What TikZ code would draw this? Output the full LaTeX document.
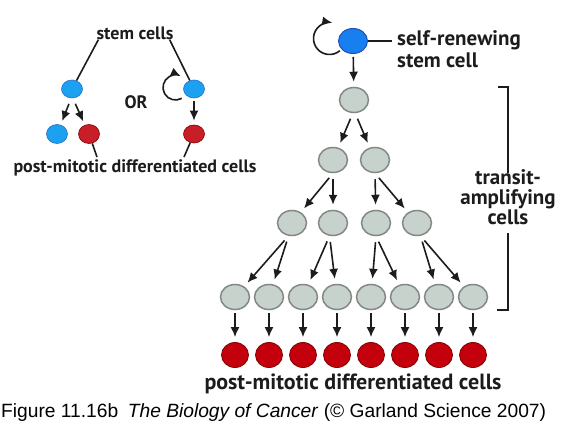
\documentclass[tikz,border=0pt]{standalone}
\usepackage{fontspec}
\setmainfont{Liberation Sans}
\newfontfamily\lblfont{PT Sans}
\usetikzlibrary{arrows.meta,positioning,calc,shapes.geometric}

\definecolor{stemblue}{RGB}{24,128,238}
\definecolor{stemedge}{RGB}{36,78,186}
\definecolor{cellblue}{RGB}{28,160,240}
\definecolor{blueedge}{RGB}{40,110,200}
\definecolor{cellred}{RGB}{196,0,12}
\definecolor{cellredl}{RGB}{200,30,40}
\definecolor{rededge}{RGB}{128,0,0}
\definecolor{cellgray}{RGB}{200,210,204}
\definecolor{grayedge}{RGB}{130,136,134}
\definecolor{ink}{RGB}{28,28,28}

\begin{document}
\begin{tikzpicture}[x=1pt, y=-1pt,
  cell/.style={ellipse, draw, inner sep=0pt},
  scell/.style={cell, minimum width=29pt, minimum height=25pt, fill=stemblue, draw=stemedge, line width=1pt},
  tacell/.style={cell, minimum width=29pt, minimum height=25pt, fill=cellgray, draw=grayedge, line width=1.5pt},
  pmcell/.style={cell, minimum width=27pt, minimum height=25pt, fill=cellred, draw=rededge, line width=0.8pt},
  bcell/.style={cell, minimum width=21pt, minimum height=18pt, fill=cellblue, draw=blueedge, line width=0.6pt},
  rcell/.style={cell, minimum width=21pt, minimum height=19pt, fill=cellredl, draw=rededge, line width=0.6pt},
  tip/.style={-{Latex[length=10pt,width=9pt]}},
  arr/.style={tip, line width=1.6pt, draw=ink, shorten <=6pt, shorten >=5pt},
  dn/.style={arr, shorten <=3pt},
  ln/.style={line width=1.6pt, draw=ink},
  lbl/.style={font=\lblfont\bfseries\fontsize{22}{22}\selectfont, text=ink, inner sep=0pt},
  lbls/.style={lbl, font=\lblfont\bfseries\fontsize{18}{18}\selectfont}]
\useasboundingbox (0,0) rectangle (568,439);

% left: the two ways
\node[lbls] (stemlbl) at (135,33) {stem cells};
\node[bcell] (b1) at (72,89) {};
\node[bcell] (b2) at (194,89) {};
\node[lbls] (orlbl) at (136,102) {OR};
\node[bcell, minimum height=19pt] (b3) at (57,134) {};
\node[rcell] (r1) at (89,134) {};
\node[rcell, minimum height=18pt] (r2) at (194,134) {};
\node[lbls] (pmlblA) at (135,168) {post-mitotic differentiated cells};

\draw[ln] ([xshift=2pt]stemlbl.south west) -- (b1);
\draw[ln] ([xshift=-4pt]stemlbl.south east) -- (b2);
\draw[arr, shorten >=4pt] (b1.-95) -- (b3);
\draw[arr, shorten >=4pt] (b1.-85) -- (r1);
\draw[dn, shorten >=4pt] (b2) -- (r2);
\draw[tip, ln] ($(b2)+(-18.5,-1.5)$) ++(-60:12.5pt) arc[start angle=-60, end angle=-295, radius=12.5pt];
\coordinate (k1) at (97,157);
\coordinate (k2) at (184,157);
\draw[ln] (r1) -- (k1);
\draw[ln] (r2) -- (k2);

% right: the hierarchy
\node[scell] (s) at (353,41) {};
\draw[tip, ln] ($(s)+(-23.5,-2.5)$) ++(-50:16pt) arc[start angle=-50, end angle=-280, radius=16pt];
\node[lbl, align=left, anchor=west, font=\lblfont\bfseries\fontsize{21}{22}\selectfont] (srlbl) at (397,49) {self-renewing\\stem cell};
\draw[ln] (s.east) -- ([xshift=-5pt]s.east -| srlbl.west);

\node[tacell] (c0) at (354,100) {};
\draw[dn] (s) -- (c0);

\node[tacell] (c10) at (333,160) {};
\node[tacell] (c11) at (375,160) {};
\draw[arr] (c0.-95) -- (c10);
\draw[arr] (c0.-85) -- (c11);

\foreach \x [count=\i from 0] in {292,333,376,417}
  \node[tacell] (c2\i) at (\x,223) {};
\draw[arr] (c10.-90) -- (c20);
\draw[arr] (c10.-90) -- (c21);
\draw[arr] (c11.-90) -- (c22);
\draw[arr] (c11.-90) -- (c23);

\foreach \i in {0,...,7} {
  \node[tacell] (c3\i) at (235+34*\i,297) {};
  \node[pmcell] (d\i) at (235+34*\i,355) {};
  \draw[dn] (c3\i) -- (d\i);
}
\draw[arr] (c20.-105) -- (c30);
\draw[arr] (c20.-105) -- (c31);
\draw[arr] (c21.-105) -- (c32);
\draw[arr] (c21.-105) -- (c33);
\draw[arr] (c22.-90) -- (c34);
\draw[arr] (c22.-90) -- (c35);
\draw[arr] (c23.-75) -- (c36);
\draw[arr] (c23.-75) -- (c37);

\node[lbl, align=center, font=\lblfont\bfseries\fontsize{21}{20}\selectfont] (talbl) at (508,197) {transit-\\amplifying\\cells};
\coordinate (bt) at (498,87);
\coordinate (bb) at (497,310);
\draw[ln, line width=2pt] (bt) -| ([yshift=-4pt]talbl.north);
\draw[ln, line width=2pt] ([yshift=-8pt]talbl.south) |- (bb);

\node[lbl] (pmlblB) at (353,384) {post-mitotic differentiated cells};
\node[anchor=west, inner sep=0pt, font=\fontsize{19.2}{20}\selectfont] (cap) at (1,413)
  {Figure 11.16b\enspace\textit{The Biology of Cancer} (© Garland Science 2007)};
\end{tikzpicture}
\end{document}
